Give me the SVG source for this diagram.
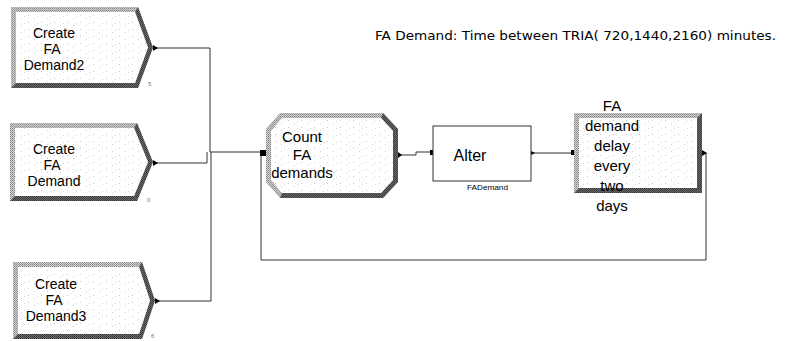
<svg xmlns="http://www.w3.org/2000/svg" width="792" height="341" viewBox="0 0 792 341">
<defs>
<pattern id="light" width="2" height="2" patternUnits="userSpaceOnUse">
<rect width="2" height="2" fill="#d0d0d0"/>
<rect width="1" height="1" fill="#888"/>
<rect x="1" y="1" width="1" height="1" fill="#a0a0a0"/>
</pattern>
<pattern id="dark" width="2" height="2" patternUnits="userSpaceOnUse">
<rect width="2" height="2" fill="#6a6a6a"/>
<rect width="1" height="1" fill="#333"/>
<rect x="1" y="1" width="1" height="1" fill="#444"/>
</pattern>
<pattern id="tex" width="13" height="7" patternUnits="userSpaceOnUse">
<rect width="13" height="7" fill="#fff"/>
<rect x="2" y="1" width="1" height="1" fill="#c8c8c8"/>
<rect x="8" y="4" width="1" height="1" fill="#d0d0d0"/>
<rect x="11" y="2" width="1" height="1" fill="#d8d8d8"/>
</pattern>
</defs>
<style>
.outer{fill:url(#light)}
.dark{fill:url(#dark)}
.inner{fill:url(#tex)}
.lbl{font-family:"Liberation Sans",Arial,sans-serif;font-size:15px;fill:#000;text-anchor:middle}
.cl{font-size:14px}
.tiny{font-family:"Liberation Sans",Arial,sans-serif;font-size:6px;fill:#777}
.conn{fill:none;stroke:#333;stroke-width:1}
.tip{fill:#000}
</style>

<g id="connectors">
<path class="conn" d="M155,48 H210 V152 H262"/>
<path class="conn" d="M155,163 H207 V152"/>
<path class="conn" d="M157,301 H211 V152"/>
<path class="conn" d="M400,155 H416 V152 H432"/>
<path class="conn" d="M531,153 H572"/>
<path class="conn" d="M704,153 H706 V260 H261 V152"/>
<polygon class="tip" points="153,45 158,48 153,51"/>
<polygon class="tip" points="153,160 158,163 153,166"/>
<polygon class="tip" points="155,298 160,301 155,304"/>
<rect class="tip" x="260" y="150" width="7" height="6"/>
<polygon class="tip" points="398,152 402,155 398,158"/>
<rect class="tip" x="430" y="150" width="3" height="5"/>
<polygon class="tip" points="531,151 535,153 531,155"/>
<rect class="tip" x="571" y="150" width="4" height="5"/>
<polygon class="tip" points="702,150 707,153 702,156"/>
</g>

<g id="create2">
<polygon class="outer" points="11,7 138,7 153,47.5 138,88 11,88"/>
<polygon class="dark" points="138,7 153,47.5 138,88 11,88 16,83 135,83 148,47.5 135,12"/>
<polygon class="inner" points="16,12 135,12 148,47.5 135,83 16,83"/>
<text class="lbl cl" x="54" y="38">Create</text>
<text class="lbl cl" x="52" y="54">FA</text>
<text class="lbl cl" x="54" y="70">Demand2</text>
<text class="tiny" x="148" y="86">5</text>
</g>

<g id="create">
<polygon class="outer" points="10,123 137,123 153,162 137,201 10,201"/>
<polygon class="dark" points="137,123 153,162 137,201 10,201 15,196 134,196 148,162 134,128"/>
<polygon class="inner" points="15,128 134,128 148,162 134,196 15,196"/>
<text class="lbl cl" x="54" y="154">Create</text>
<text class="lbl cl" x="52" y="170">FA</text>
<text class="lbl cl" x="54" y="186">Demand</text>
<text class="tiny" x="147" y="202">0</text>
</g>

<g id="create3">
<polygon class="outer" points="13,262 142,262 155,300.5 142,339 13,339"/>
<polygon class="dark" points="142,262 155,300.5 142,339 13,339 18,334 139,334 150,300.5 139,267"/>
<polygon class="inner" points="18,267 139,267 150,300.5 139,334 18,334"/>
<text class="lbl cl" x="56" y="289">Create</text>
<text class="lbl cl" x="54" y="305">FA</text>
<text class="lbl cl" x="56" y="321">Demand3</text>
<text class="tiny" x="151" y="338">6</text>
</g>

<g id="count">
<polygon class="outer" points="280,113 383,113 398,129 398,182 383,198 280,198 266,182 266,129"/>
<polygon class="dark" points="383,113 398,129 398,182 383,198 280,198 282,193 381,193 393,180 393,131 381,118"/>
<polygon class="inner" points="282,118 381,118 393,131 393,180 381,193 282,193 271,180 271,131"/>
<text class="lbl" x="302" y="142">Count</text>
<text class="lbl" x="302" y="160">FA</text>
<text class="lbl" x="302" y="178">demands</text>
</g>

<g id="alter">
<rect x="433" y="126" width="98" height="55" fill="#fff" stroke="#333" stroke-width="1"/>
<text class="lbl" x="470" y="161" style="font-size:16px">Alter</text>
<text x="467" y="190" style="font-family:'Liberation Sans',Arial,sans-serif;font-size:8px" textLength="41" lengthAdjust="spacingAndGlyphs">FADemand</text>
</g>

<g id="delay">
<rect x="574" y="113" width="128" height="80" class="outer"/>
<polygon class="dark" points="702,113 702,193 574,193 579,188 697,188 697,118"/>
<rect x="579" y="118" width="118" height="70" class="inner"/>
<text class="lbl" x="612" y="111">FA</text>
<text class="lbl" x="612" y="131">demand</text>
<text class="lbl" x="612" y="151">delay</text>
<text class="lbl" x="612" y="171">every</text>
<text class="lbl" x="612" y="191">two</text>
<text class="lbl" x="612" y="211">days</text>
</g>

<text x="375" y="40" style="font-family:'DejaVu Sans',Verdana,sans-serif;font-size:13px" textLength="401" lengthAdjust="spacingAndGlyphs">FA Demand: Time between TRIA( 720,1440,2160) minutes.</text>
</svg>
